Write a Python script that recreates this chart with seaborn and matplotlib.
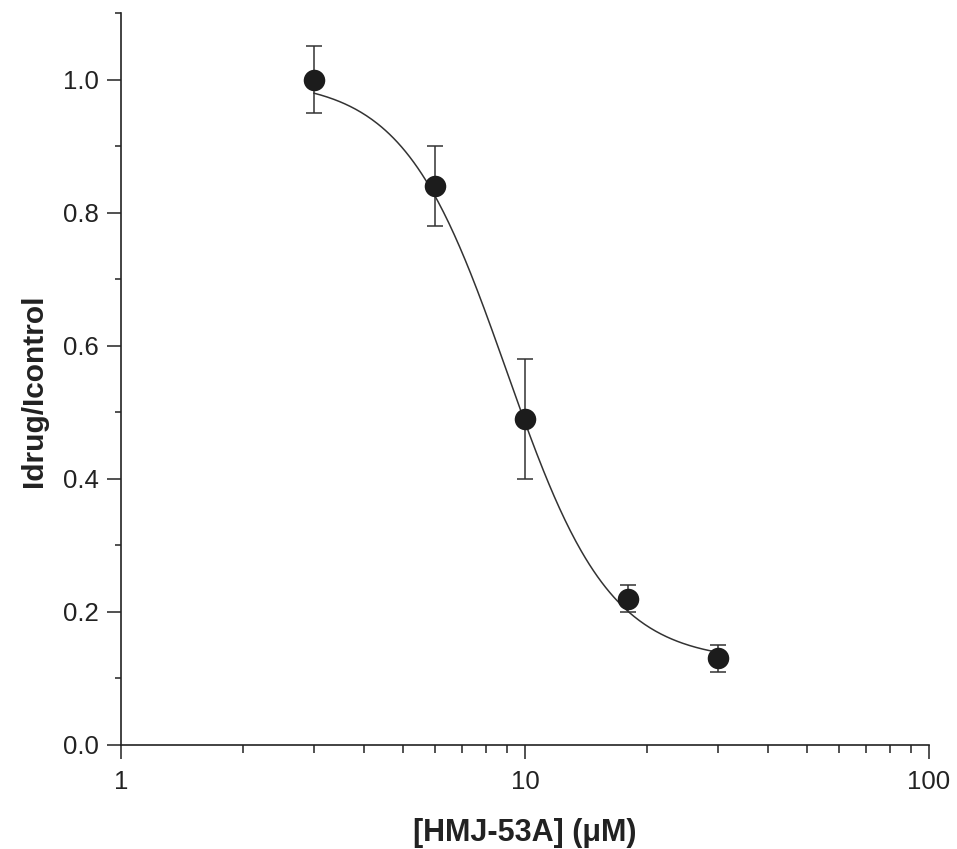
import numpy as np
import pandas as pd
import matplotlib
matplotlib.use("Agg")
import matplotlib.pyplot as plt
import matplotlib.ticker as mticker
import seaborn as sns

# ---- data ----
conc = [3, 6, 10, 18, 30]                 # [HMJ-53A] (µM)
ratio = [1.00, 0.84, 0.49, 0.22, 0.13]    # Idrug/Icontrol
err = [0.05, 0.06, 0.09, 0.02, 0.02]      # error bars

# Hill fit parameters
fit_top = 1.0
fit_bottom = 0.125
fit_ic50 = 9.0
fit_hill = 3.4
fit_range = [3, 30]

x_ticks = [1, 10, 100]
x_ticklabels = ["1", "10", "100"]
y_ticks = [0.0, 0.2, 0.4, 0.6, 0.8, 1.0]

sns.set_theme(style="ticks")
plt.rcParams['font.family'] = ['Liberation Sans', 'DejaVu Sans']

fig = plt.figure(figsize=(9.57, 8.49), dpi=100)
ax = fig.add_axes([121 / 957, 1 - 745 / 849, (929 - 121) / 957, (745 - 13) / 849])

xs = np.logspace(np.log10(fit_range[0]), np.log10(fit_range[1]), 300)
ys = fit_bottom + (fit_top - fit_bottom) / (1 + (xs / fit_ic50) ** fit_hill)
curve = pd.DataFrame({"x": xs, "y": ys})
pts = pd.DataFrame({"x": conc, "y": ratio, "e": err})

sns.lineplot(data=curve, x="x", y="y", ax=ax, color="#333333", linewidth=1.1, zorder=2)
ax.errorbar(pts["x"], pts["y"], yerr=pts["e"], fmt="none", ecolor="#333333",
            elinewidth=1.1, capsize=5.5, capthick=1.1, zorder=3)
sns.scatterplot(data=pts, x="x", y="y", ax=ax, s=15.5 ** 2, color="#1c1c1c",
                edgecolor="#1c1c1c", linewidth=0, zorder=4)

ax.set_xscale("log")
ax.set_xlim(1, 100)
ax.set_ylim(0, 1.1)
ax.xaxis.set_major_locator(mticker.FixedLocator(x_ticks))
ax.xaxis.set_major_formatter(mticker.FixedFormatter(x_ticklabels))
ax.xaxis.set_minor_locator(mticker.LogLocator(base=10, subs=np.arange(2, 10)))
ax.xaxis.set_minor_formatter(mticker.NullFormatter())
ax.yaxis.set_major_locator(mticker.FixedLocator(y_ticks))
ax.yaxis.set_major_formatter(mticker.FormatStrFormatter("%.1f"))
ax.yaxis.set_minor_locator(mticker.MultipleLocator(0.1))

for s in ["top", "right"]:
    ax.spines[s].set_visible(False)
for s in ["left", "bottom"]:
    ax.spines[s].set_color("#222222")
    ax.spines[s].set_linewidth(1.2)

ax.tick_params(axis="both", which="major", direction="out", length=10, width=1.1,
               color="#222222", labelsize=18.5, labelcolor="#222222")
ax.tick_params(axis="x", which="major", pad=8)
ax.tick_params(axis="y", which="major", pad=6)
ax.tick_params(axis="x", which="minor", direction="out", length=6, width=1.1, color="#222222")
ax.tick_params(axis="y", which="minor", direction="out", length=4.5, width=1.1, color="#222222")

ax.set_xlabel("[HMJ-53A] (\u03bcM)", fontsize=22, fontweight="bold", color="#222222", labelpad=17)
ax.set_ylabel("Idrug/Icontrol", fontsize=21.5, fontweight="bold", color="#222222", labelpad=11)
ax.yaxis.label.set_y(0.484)

fig.savefig("out.png", dpi=100)
